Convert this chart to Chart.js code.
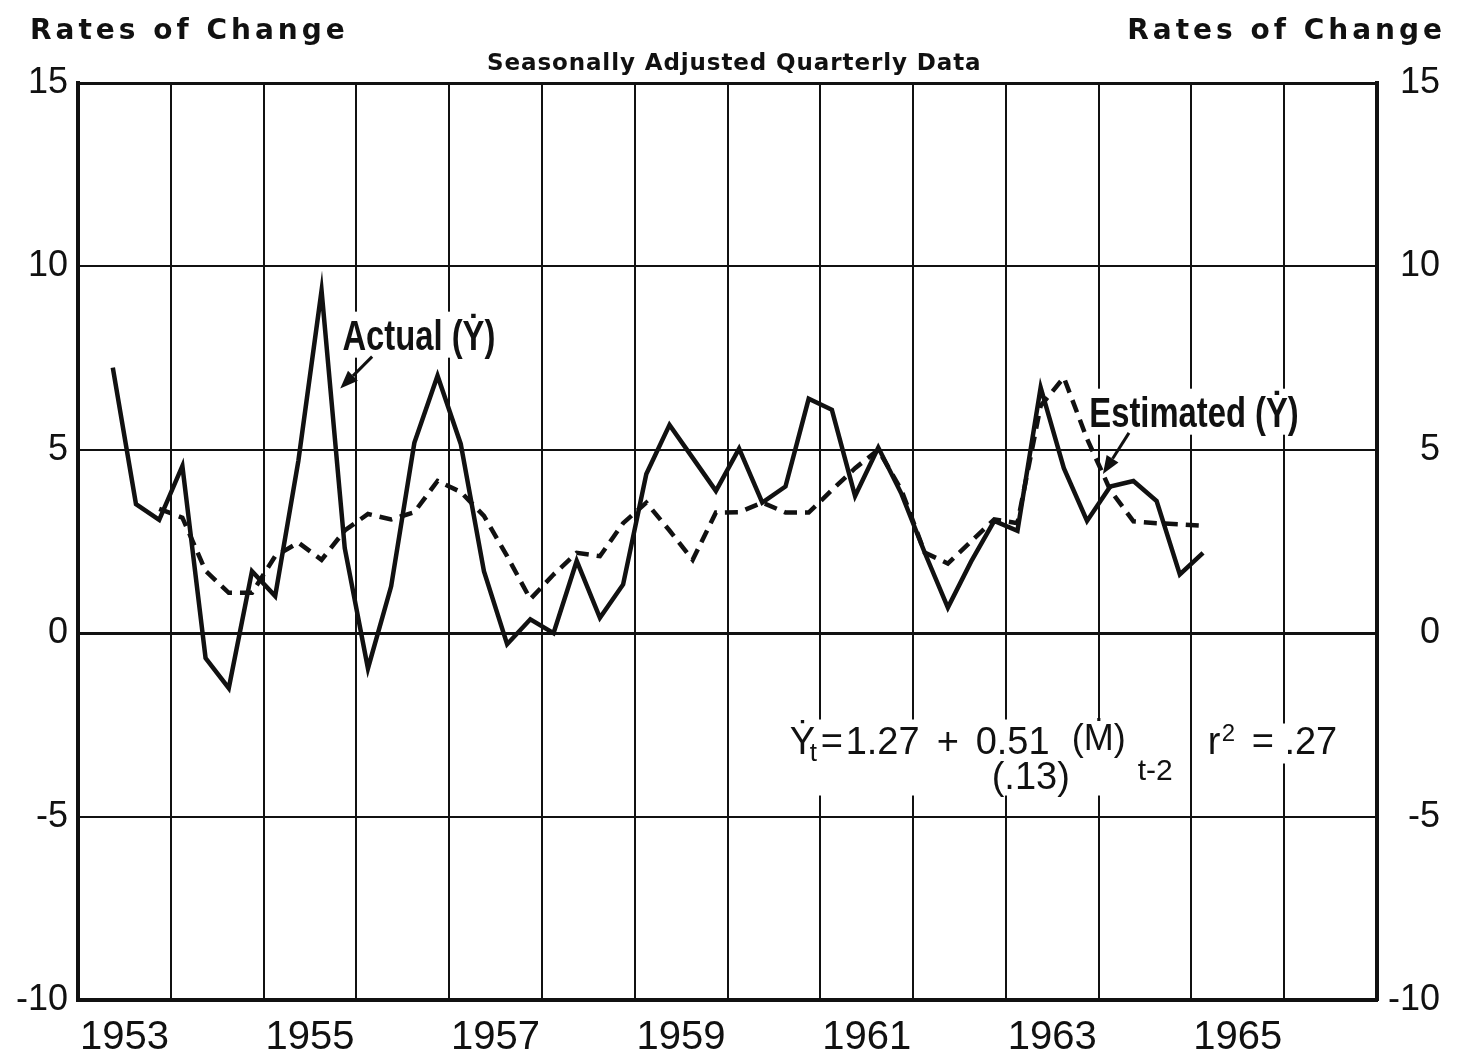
<!DOCTYPE html>
<html>
<head>
<meta charset="utf-8">
<script src="https://cdn.jsdelivr.net/npm/chart.js@4.4.1/dist/chart.umd.min.js"></script>
<style>
  body { margin: 0; background: #fff; }
  #wrap { position: relative; width: 1465px; height: 1056px; }
  .hdr { position: absolute; top: 16px; font: bold 28px "DejaVu Sans", sans-serif; line-height: 28px; letter-spacing: 4px; color: #111; white-space: nowrap; }
  .sub { position: absolute; top: 51px; left: 487px; font: bold 23px "DejaVu Sans", sans-serif; line-height: 23px; letter-spacing: 0.9px; color: #111; white-space: nowrap; }
</style>
</head>
<body>
<div id="wrap">
  <canvas id="chart" width="1465" height="1056"></canvas>
  <div class="hdr" style="left:30px">Rates of Change</div>
  <div class="hdr" style="right:19px">Rates of Change</div>
  <div class="sub">Seasonally Adjusted Quarterly Data</div>
</div>
<script>
// quarterly observations, 1953 Q2 .. 1965 Q1
const quarters = [
  '1953 Q2','1953 Q3','1953 Q4',
  '1954 Q1','1954 Q2','1954 Q3','1954 Q4',
  '1955 Q1','1955 Q2','1955 Q3','1955 Q4',
  '1956 Q1','1956 Q2','1956 Q3','1956 Q4',
  '1957 Q1','1957 Q2','1957 Q3','1957 Q4',
  '1958 Q1','1958 Q2','1958 Q3','1958 Q4',
  '1959 Q1','1959 Q2','1959 Q3','1959 Q4',
  '1960 Q1','1960 Q2','1960 Q3','1960 Q4',
  '1961 Q1','1961 Q2','1961 Q3','1961 Q4',
  '1962 Q1','1962 Q2','1962 Q3','1962 Q4',
  '1963 Q1','1963 Q2','1963 Q3','1963 Q4',
  '1964 Q1','1964 Q2','1964 Q3','1964 Q4',
  '1965 Q1'
];

const actual = [
  7.24, 3.52, 3.09,
  4.56, -0.68, -1.5, 1.69,
  1.01, 4.7, 9.34, 2.32,
  -0.96, 1.28, 5.19, 7.02,
  5.16, 1.69, -0.3, 0.38,
  0.0, 1.97, 0.42, 1.33,
  4.34, 5.68, 4.78, 3.88,
  5.03, 3.56, 4.0, 6.39,
  6.09, 3.74, 5.06, 3.8,
  2.2, 0.7, 1.95, 3.06,
  2.79, 6.7, 4.5, 3.06,
  4.0, 4.15, 3.6, 1.6,
  2.19
];

const estimated = [
  null, null, 3.39,
  3.15, 1.7, 1.1, 1.1,
  2.1, 2.47, 2.0, 2.8,
  3.25, 3.1, 3.3, 4.15,
  3.85, 3.2, 2.1, 0.93,
  1.6, 2.19, 2.1, 3.0,
  3.56, 2.8, 2.0, 3.29,
  3.3, 3.56, 3.29, 3.29,
  3.9, 4.5, 5.0, 3.9,
  2.2, 1.9, 2.5, 3.1,
  3.0, 6.2, 6.97, 5.3,
  3.9, 3.05, 3.0, 2.97,
  2.93
];

const yearLabels = ['1953', '1955', '1957', '1959', '1961', '1963', '1965'];
const rateTicks = [-10, -5, 0, 5, 10, 15];

function quarterPos(q) {
  const parts = q.split(' Q');
  return Number(parts[0]) + (Number(parts[1]) - 0.5) / 4;
}

function toPoints(vals) {
  return vals.map((v, i) => ({ x: quarterPos(quarters[i]), y: v }));
}

const FONT = '"Liberation Sans", Arial, sans-serif';

function squeezed(ctx, text, px, py, size, sx) {
  ctx.save();
  ctx.translate(px, py);
  ctx.scale(sx, 1);
  ctx.font = 'bold ' + size + 'px ' + FONT;
  ctx.fillText(text, 0, 0);
  ctx.restore();
}

function arrow(ctx, x0, y0, x1, y1) {
  const a = Math.atan2(y1 - y0, x1 - x0), L = 18, W = 7;
  const bx = x1 - L * Math.cos(a), by = y1 - L * Math.sin(a);
  ctx.lineWidth = 3;
  ctx.beginPath();
  ctx.moveTo(x0, y0);
  ctx.lineTo(bx, by);
  ctx.stroke();
  ctx.beginPath();
  ctx.moveTo(x1, y1);
  ctx.lineTo(bx + W * Math.sin(a), by - W * Math.cos(a));
  ctx.lineTo(bx - W * Math.sin(a), by + W * Math.cos(a));
  ctx.closePath();
  ctx.fill();
}

// labels, arrows and the regression equation
const notes = {
  id: 'notes',
  beforeDatasetsDraw(chart) {
    const { ctx, scales: { x, y } } = chart;
    ctx.save();
    ctx.fillStyle = '#fff';
    const ax = x.getPixelForValue(1955.85), ay = y.getPixelForValue(7.73);
    ctx.fillRect(ax - 4, ay - 38, 162, 46);
    const ex = x.getPixelForValue(1963.9), ey = y.getPixelForValue(5.63);
    ctx.fillRect(ex - 4, ey - 38, 218, 46);
    const qx = x.getPixelForValue(1960.67), qy = y.getPixelForValue(-3.28);
    ctx.fillRect(qx - 6, qy - 34, 398, 76);
    ctx.fillRect(qx + 412, qy - 30, 148, 40);
    ctx.restore();
  },
  afterDatasetsDraw(chart) {
    const { ctx, scales: { x, y } } = chart;
    ctx.save();
    ctx.fillStyle = '#111';
    ctx.strokeStyle = '#111';
    ctx.textBaseline = 'alphabetic';
    ctx.textAlign = 'left';

    squeezed(ctx, 'Actual (Ẏ)', x.getPixelForValue(1955.85), y.getPixelForValue(7.73), 42, 0.78);
    squeezed(ctx, 'Estimated (Ẏ)', x.getPixelForValue(1963.9), y.getPixelForValue(5.63), 42, 0.78);
    arrow(ctx, x.getPixelForValue(1956.17), y.getPixelForValue(7.54), x.getPixelForValue(1955.826), y.getPixelForValue(6.67));
    arrow(ctx, x.getPixelForValue(1964.327), y.getPixelForValue(5.46), x.getPixelForValue(1964.046), y.getPixelForValue(4.34));

    const qx = x.getPixelForValue(1960.67), qy = y.getPixelForValue(-3.28);
    const piece = (t, dx, dy, size) => {
      ctx.font = size + 'px ' + FONT;
      ctx.fillText(t, qx + dx, qy + dy);
    };
    piece('Ẏ', 0, 0, 38);
    piece('t', 20, 7, 26);
    piece('=', 31, 0, 38);
    piece('1.27', 56, 0, 38);
    piece('+', 147, 0, 38);
    piece('0.51', 186, 0, 38);
    piece('(.13)', 202, 35, 38);
    piece('(Ṁ)', 282, -4, 36);
    piece('t-2', 348, 26, 30);
    piece('r', 418, 0, 38);
    piece('2', 432, -13, 24);
    piece('= .27', 462, 0, 38);
    ctx.restore();
  }
};

new Chart(document.getElementById('chart'), {
  type: 'line',
  data: {
    datasets: [
      {
        label: 'Actual',
        data: toPoints(actual),
        borderColor: '#111',
        borderWidth: 4.5,
        pointRadius: 0,
        tension: 0,
        fill: false
      },
      {
        label: 'Estimated',
        data: toPoints(estimated),
        borderColor: '#111',
        borderWidth: 4.5,
        borderDash: [13, 8],
        pointRadius: 0,
        tension: 0,
        fill: false,
        spanGaps: false
      }
    ]
  },
  options: {
    responsive: false,
    animation: false,
    devicePixelRatio: 1,
    layout: { padding: { top: 83, right: 25, left: 0, bottom: 0 } },
    plugins: { legend: { display: false }, tooltip: { enabled: false } },
    scales: {
      x: {
        type: 'linear',
        min: 1953,
        max: 1967,
        afterFit: s => { s.height = 56; },
        border: { display: true, color: '#111', width: 4 },
        grid: {
          drawTicks: false,
          color: c => Number.isInteger(c.tick.value) ? '#111' : 'rgba(0,0,0,0)',
          lineWidth: 2
        },
        ticks: {
          stepSize: 0.5,
          autoSkip: false,
          maxRotation: 0,
          padding: 14,
          color: '#111',
          font: { family: FONT, size: 40 },
          callback: v => {
            const i = yearLabels.indexOf(String(v - 0.5));
            return i >= 0 ? yearLabels[i] : '';
          }
        }
      },
      y: {
        position: 'left',
        min: -10,
        max: 15,
        afterFit: s => { s.width = 78; },
        afterBuildTicks: s => { s.ticks = rateTicks.map(v => ({ value: v })); },
        border: { display: true, color: '#111', width: 4 },
        grid: {
          drawTicks: false,
          color: '#111',
          lineWidth: c => (c.tick.value === 0 || c.tick.value === 15) ? 3 : 2
        },
        ticks: {
          padding: 10,
          crossAlign: 'near',
          color: '#111',
          font: { family: FONT, size: 36 }
        }
      },
      y2: {
        position: 'right',
        min: -10,
        max: 15,
        afterFit: s => { s.width = 63; },
        afterBuildTicks: s => { s.ticks = rateTicks.map(v => ({ value: v })); },
        border: { display: true, color: '#111', width: 4 },
        grid: { display: false, drawTicks: false },
        ticks: {
          padding: 10,
          crossAlign: 'far',
          color: '#111',
          font: { family: FONT, size: 36 }
        }
      }
    }
  },
  plugins: [notes]
});
</script>
</body>
</html>
